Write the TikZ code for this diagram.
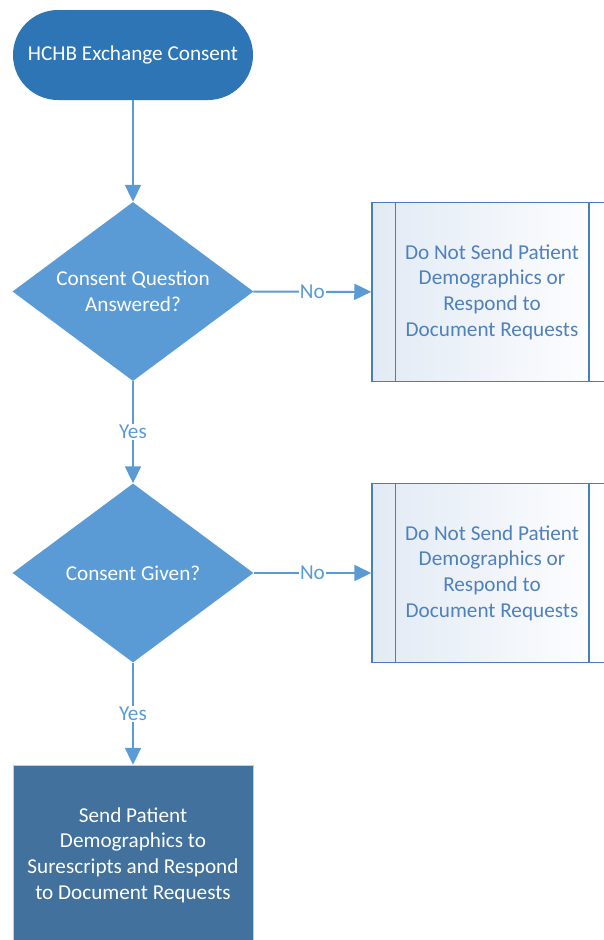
\documentclass[tikz,border=0pt]{standalone}
\usepackage{fontspec}
\setmainfont{Carlito}
\usetikzlibrary{shapes.geometric,arrows.meta,positioning}
\definecolor{termblue}{HTML}{2E75B6}
\definecolor{decblue}{HTML}{5B9BD5}
\definecolor{actblue}{HTML}{41719C}
\definecolor{lineblue}{HTML}{5B9BD5}
\definecolor{boxline}{HTML}{4A7EBB}
\definecolor{boxtext}{HTML}{4F81BD}
\definecolor{boxtint}{HTML}{E2EAF5}

\begin{document}
\begin{tikzpicture}[x=1pt,y=-1pt,
    every node/.style={font=\fontsize{21.2}{25.6}\selectfont},
    term/.style={fill=termblue, text=white, rounded corners=45pt,
      minimum width=240pt, minimum height=90pt},
    decision/.style={diamond, fill=decblue, text=white, aspect=1.35,
      inner sep=0pt, align=center, minimum width=241pt, minimum height=179pt},
    predef/.style={draw=boxline, line width=1.5pt, left color=boxtint, right color=white,
      text=boxtext, align=center, minimum width=240pt, minimum height=179pt},
    action/.style={fill=actblue, draw=black!20, text=white, align=center,
      minimum width=240pt, minimum height=180pt},
    flow/.style={draw=lineblue, line width=2pt, -{Triangle[length=17pt,width=16pt]}},
    lbl/.style={fill=white, text=lineblue, inner sep=1pt}]
    \useasboundingbox (0,0) rectangle (603,940);

    \node[term] (start) at (133,55) {HCHB Exchange Consent};
    \node[decision] (q1) at (133,291.5) {Consent Question\\Answered?};
    \node[decision] (q2) at (133,573) {Consent Given?};
    \node[predef] (no1) at (492,292) {Do Not Send Patient\\Demographics or\\Respond to\\Document Requests};
    \node[predef] (no2) at (492,573) {Do Not Send Patient\\Demographics or\\Respond to\\Document Requests};
    \node[action] (send) at (133,855) {Send Patient\\Demographics to\\Surescripts and Respond\\to Document Requests};

    % inner bars of the predefined process boxes
    \foreach \b in {no1,no2} {
      \draw[boxline, line width=1.5pt] ([xshift=24pt]\b.north west) -- ([xshift=24pt]\b.south west);
      \draw[boxline, line width=1.5pt] ([xshift=-24pt]\b.north east) -- ([xshift=-24pt]\b.south east);
    }

    \draw[flow] (start) -- (q1);
    \draw[flow] (q1) -- node[lbl]{No} (no1);
    \draw[flow] (q1) -- node[lbl]{Yes} (q2);
    \draw[flow] (q2) -- node[lbl]{No} (no2);
    \draw[flow] (q2) -- node[lbl]{Yes} (send);
\end{tikzpicture}
\end{document}
